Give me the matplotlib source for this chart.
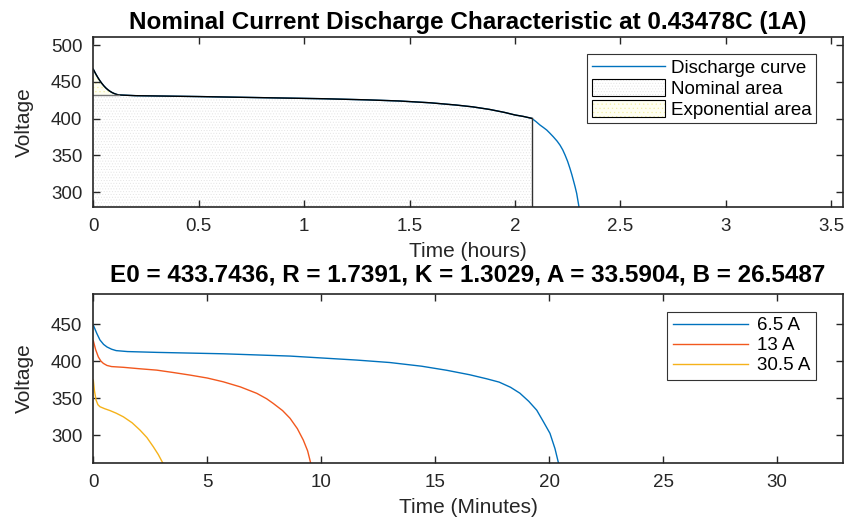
import numpy as np
import matplotlib
matplotlib.use('Agg')
import matplotlib.pyplot as plt
from matplotlib.patches import Patch
from matplotlib.lines import Line2D

plt.rcParams['font.family'] = ['Liberation Sans', 'DejaVu Sans']
plt.rcParams['hatch.linewidth'] = 0.35

# top plot: discharge at nominal current (hours, volts)
t_hours = [0, 0.01, 0.02, 0.03, 0.04, 0.05, 0.06, 0.07, 0.08, 0.09, 0.10, 0.11, 0.12,
           0.2, 0.3, 0.5, 0.7, 0.9, 1.1, 1.3, 1.45, 1.6, 1.72, 1.8, 1.88, 1.95, 2.0,
           2.04, 2.08, 2.10, 2.119, 2.135, 2.151, 2.165, 2.182, 2.2, 2.214, 2.227,
           2.238, 2.25, 2.261, 2.27, 2.277, 2.285, 2.293, 2.304]
v_top = [467, 461.5, 456.5, 452, 448, 444.5, 441.5, 439, 437, 435.3, 434, 433, 432.2,
         431.2, 430.8, 430, 429, 428, 427, 425.5, 424, 421.5, 418.5, 416, 412.5, 408.5, 405,
         403, 400.4, 396, 391.3, 388, 384.5, 380.5, 375.4, 369.5, 364, 357.5,
         350.5, 342, 332.5, 324, 316.6, 308, 298.5, 280]
t_nom, v_nom = 2.08, 400.4
t_exp, v_exp = 0.12, 431.8

# bottom plot: discharge at several currents (minutes, volts)
t_65 = [0, 0.15, 0.29, 0.45, 0.6, 0.8, 1.0, 1.5, 2.78, 5.7, 8.63, 11.55, 13, 14.4, 15.5,
        16.5, 17.25, 17.8, 18.3, 18.71, 19.1, 19.45, 19.75, 20.03, 20.25, 20.4]
v_65 = [449, 438, 429, 423, 419.5, 416.5, 414.6, 413.3, 412.2, 410.3, 407.2, 401.8, 398.5,
        393.5, 388, 382, 376.5, 372, 365, 357, 346, 334, 318, 302.7, 282, 263]
t_13 = [0, 0.1, 0.22, 0.33, 0.44, 0.6, 0.8, 1.32, 2.05, 2.78, 3.5, 4.24, 5.0, 5.70, 6.45,
        7.17, 7.6, 7.89, 8.3, 8.63, 8.95, 9.21, 9.4, 9.53]
v_13 = [427.9, 416, 406, 400.5, 397.3, 394.5, 393, 392, 390, 388.2, 385, 381.5, 377.5,
        372.4, 365.5, 356.8, 349.5, 343.2, 333.5, 323, 309, 293.6, 279, 263]
t_305 = [0, 0.05, 0.12, 0.2, 0.29, 0.5, 0.73, 1.0, 1.32, 1.7, 2.05, 2.35, 2.63, 2.85, 3.04]
v_305 = [374.7, 360, 347.7, 341.5, 338.7, 336, 333.5, 330, 325, 317, 307, 297, 284.6, 274, 263]

blue = '#0072BD'
orange = '#F2581E'
yellow = '#F5B21A'
axc = '#262626'
nom_face, nom_hatch = '#ffffff', '#e2e2e2'
exp_face, exp_hatch = '#fffff2', '#f2eea0'

fig = plt.figure(figsize=(8.5, 5.18), dpi=100)
ax1 = fig.add_axes([0.1098, 0.601, 0.8816, 0.327])
ax2 = fig.add_axes([0.1098, 0.1062, 0.8816, 0.326])

th = np.array(t_hours)
vt = np.array(v_top)
ylo1 = 280.4
m = th <= t_nom
ax1.fill_between(th[m], ylo1, vt[m], facecolor=nom_face, hatch='......',
                 edgecolor=nom_hatch, linewidth=0)
me = th <= t_exp
ax1.fill_between(th[me], v_exp, vt[me], facecolor=exp_face, hatch='....',
                 edgecolor=exp_hatch, linewidth=0)
ax1.plot(th, vt, color=blue, lw=1.0)
ax1.plot(th[m], vt[m], color='black', lw=1.0)
ax1.plot([t_nom, t_nom], [ylo1, v_nom], color='#333333', lw=1.0)
ax1.plot([0, t_exp], [v_exp, v_exp], color='#777777', lw=1.0)

ax1.set_xlim(0, 3.555)
ax1.set_ylim(ylo1, 510.5)
ax1.set_xticks([0, 0.5, 1, 1.5, 2, 2.5, 3, 3.5])
ax1.set_xticklabels(['0', '0.5', '1', '1.5', '2', '2.5', '3', '3.5'])
ax1.set_yticks([300, 350, 400, 450, 500])
ax1.set_xlabel('Time (hours)', fontsize=15, color=axc, labelpad=5)
ax1.set_ylabel('Voltage', fontsize=15, color=axc, labelpad=12)
ax1.set_title('Nominal Current Discharge Characteristic at 0.43478C (1A)',
              fontsize=17.5, fontweight='bold', pad=6)

# legend patches: light hatch underneath, black outline on top
nom_h = (Patch(facecolor=nom_face, edgecolor=nom_hatch, hatch='......', lw=0),
         Patch(fill=False, edgecolor='black', lw=0.8))
exp_h = (Patch(facecolor=exp_face, edgecolor=exp_hatch, hatch='....', lw=0),
         Patch(fill=False, edgecolor='black', lw=0.8))
handles1 = [Line2D([], [], color=blue, lw=1.0), nom_h, exp_h]
leg1 = ax1.legend(handles1, ['Discharge curve', 'Nominal area', 'Exponential area'],
                  loc='upper right', bbox_to_anchor=(0.972, 0.935), fontsize=13.5,
                  fancybox=False, framealpha=1, edgecolor='#333333',
                  handlelength=3.9, handleheight=1.0, handletextpad=0.3,
                  borderpad=0.25, labelspacing=0.1, borderaxespad=0.3)
leg1.get_frame().set_linewidth(0.8)

ax2.plot(t_65, v_65, color=blue, lw=1.0, label='6.5 A')
ax2.plot(t_13, v_13, color=orange, lw=1.0, label='13 A')
ax2.plot(t_305, v_305, color=yellow, lw=1.0, label='30.5 A')
ax2.set_xlim(0, 32.87)
ax2.set_ylim(262.6, 491)
ax2.set_xticks([0, 5, 10, 15, 20, 25, 30])
ax2.set_yticks([300, 350, 400, 450])
ax2.set_xlabel('Time (Minutes)', fontsize=15, color=axc, labelpad=5)
ax2.set_ylabel('Voltage', fontsize=15, color=axc, labelpad=12)
ax2.set_title('E0 = 433.7436, R = 1.7391, K = 1.3029, A = 33.5904, B = 26.5487',
              fontsize=17.5, fontweight='bold', pad=9)
leg2 = ax2.legend(loc='upper right', bbox_to_anchor=(0.972, 0.93), fontsize=13.5,
                  fancybox=False, framealpha=1, edgecolor='#333333',
                  handlelength=4.0, handletextpad=0.5, borderpad=0.3,
                  labelspacing=0.15, borderaxespad=0.3)
leg2.get_frame().set_linewidth(0.8)

for ax in (ax1, ax2):
    ax.tick_params(direction='in', top=True, right=True, length=5, width=1,
                   labelsize=13.5, colors=axc, pad=8)
    for s in ax.spines.values():
        s.set_linewidth(1.2)
        s.set_color(axc)

fig.savefig('out.png', dpi=100)
